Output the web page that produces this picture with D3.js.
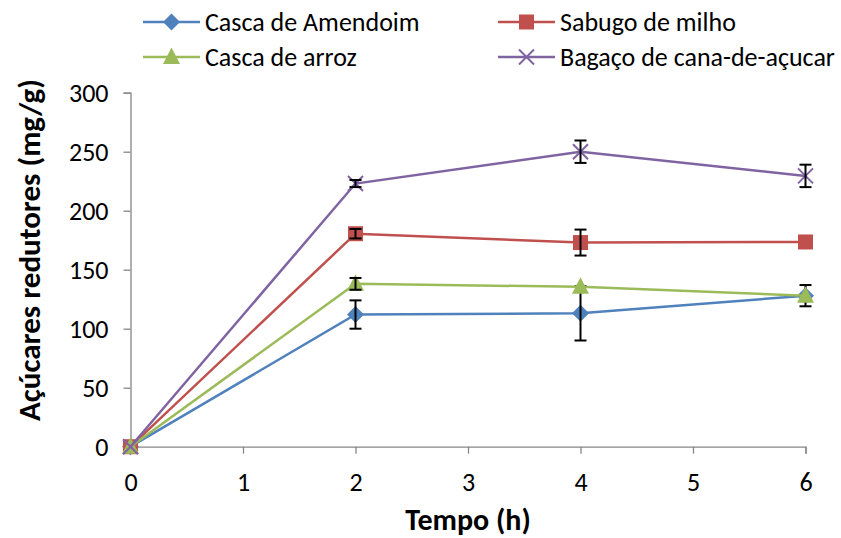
<!DOCTYPE html>
<html>
<head>
<meta charset="utf-8">
<script src="https://cdn.jsdelivr.net/npm/d3@7"></script>
<style>
  body { margin: 0; background: #fff; }
  svg { display: block; font-family: Carlito, Lato, "Liberation Sans", sans-serif; }
</style>
</head>
<body>
<svg width="841" height="538"></svg>
<script>
// data
const times = [0, 2, 4, 6];
const yTicks = [0, 50, 100, 150, 200, 250, 300];
const xTicks = [0, 1, 2, 3, 4, 5, 6];

const names = ['Casca de Amendoim', 'Sabugo de milho', 'Casca de arroz', 'Bagaço de cana-de-açucar'];
const amendoim = [0, 112, 113, 128];
const amendoimErr = [0, 12, 23, 9];
const milho = [0, 180.5, 173, 173.5];
const milhoErr = [0, 4, 11, 0];
const arroz = [0, 138, 135.5, 128];
const arrozErr = [0, 5, 0, 0];
const bagaco = [0, 223, 250, 229.5];
const bagacoErr = [0, 3, 9.5, 9.5];

const colors = ['#4f81bd', '#c0504d', '#9bbb59', '#8064a2'];
const symbols = ['diamond', 'square', 'triangle', 'cross'];

const series = [
  { name: names[0], values: amendoim, err: amendoimErr, color: colors[0], sym: symbols[0] },
  { name: names[1], values: milho, err: milhoErr, color: colors[1], sym: symbols[1] },
  { name: names[2], values: arroz, err: arrozErr, color: colors[2], sym: symbols[2] },
  { name: names[3], values: bagaco, err: bagacoErr, color: colors[3], sym: symbols[3] },
];

const svg = d3.select('svg');
const x = d3.scaleLinear().domain([0, 6]).range([130.5, 805.5]);
const y = d3.scaleLinear().domain([0, 300]).range([446.7, 92.7]);

// axes
const xAxis = svg.append('g')
  .attr('transform', `translate(0,${y(0)})`)
  .call(d3.axisBottom(x).tickValues(xTicks).tickSize(7).tickPadding(10).tickFormat(d3.format('d')));
const yAxis = svg.append('g')
  .attr('transform', `translate(${x(0)},0)`)
  .call(d3.axisLeft(y).tickValues(yTicks).tickSize(7).tickPadding(15).tickFormat(d3.format('d')));

[xAxis, yAxis].forEach(a => {
  a.select('.domain').attr('stroke', '#868686').attr('stroke-width', 1.3);
  a.selectAll('.tick line').attr('stroke', '#868686').attr('stroke-width', 1.3);
  a.selectAll('.tick text').attr('fill', '#000').style('font-size', '26px')
    .style('font-family', 'Carlito, Lato, "Liberation Sans", sans-serif');
});
xAxis.selectAll('.tick text').attr('y', 0).attr('dy', 44);
yAxis.selectAll('.tick text').attr('dy', '0.35em');

// axis titles
svg.append('text')
  .attr('x', 468).attr('y', 530)
  .attr('text-anchor', 'middle')
  .style('font-size', '30px').style('font-weight', 'bold')
  .text('Tempo (h)');
svg.append('text')
  .attr('transform', 'translate(40,250) rotate(-90)')
  .attr('text-anchor', 'middle')
  .style('font-size', '31px').style('font-weight', 'bold')
  .text('Açúcares redutores (mg/g)');

function marker(g, sym, color) {
  if (sym === 'diamond') {
    g.append('path').attr('d', 'M0,-8.5L8.5,0L0,8.5L-8.5,0Z').attr('fill', color);
  } else if (sym === 'square') {
    g.append('rect').attr('x', -7.5).attr('y', -7.5).attr('width', 15).attr('height', 15).attr('fill', color);
  } else if (sym === 'triangle') {
    g.append('path').attr('d', 'M0,-9.5L8.5,7L-8.5,7Z').attr('fill', color);
  } else {
    g.append('path').attr('d', 'M-7.5,-7.5L7.5,7.5M-7.5,7.5L7.5,-7.5').attr('stroke', color).attr('stroke-width', 2);
  }
}

const line = d3.line().x((d, i) => x(times[i])).y(d => y(d));

series.forEach(s => {
  const g = svg.append('g');
  g.append('path')
    .attr('d', line(s.values))
    .attr('fill', 'none')
    .attr('stroke', s.color)
    .attr('stroke-width', 2.5);
  s.values.forEach((v, i) => {
    marker(g.append('g').attr('transform', `translate(${x(times[i])},${y(v)})`), s.sym, s.color);
  });
  s.values.forEach((v, i) => {
    const e = s.err[i];
    if (!e) return;
    const cx = x(times[i]);
    const eb = g.append('g').attr('stroke', '#000').attr('stroke-width', 2);
    eb.append('line').attr('x1', cx).attr('x2', cx).attr('y1', y(v + e)).attr('y2', y(v - e));
    eb.append('line').attr('x1', cx - 6).attr('x2', cx + 6).attr('y1', y(v + e)).attr('y2', y(v + e));
    eb.append('line').attr('x1', cx - 6).attr('x2', cx + 6).attr('y1', y(v - e)).attr('y2', y(v - e));
  });
});

// legend
const legendPos = [[143, 22], [498, 22], [143, 57], [498, 57]];
series.forEach((s, i) => {
  const [lx, ly] = legendPos[i];
  const g = svg.append('g').attr('transform', `translate(${lx},${ly})`);
  g.append('line').attr('x1', 0).attr('x2', 57).attr('stroke', s.color).attr('stroke-width', 2.5);
  marker(g.append('g').attr('transform', 'translate(28.5,0)'), s.sym, s.color);
  g.append('text').attr('x', 62).attr('dy', '0.33em')
    .style('font-size', '26px').text(s.name);
});
</script>
</body>
</html>
